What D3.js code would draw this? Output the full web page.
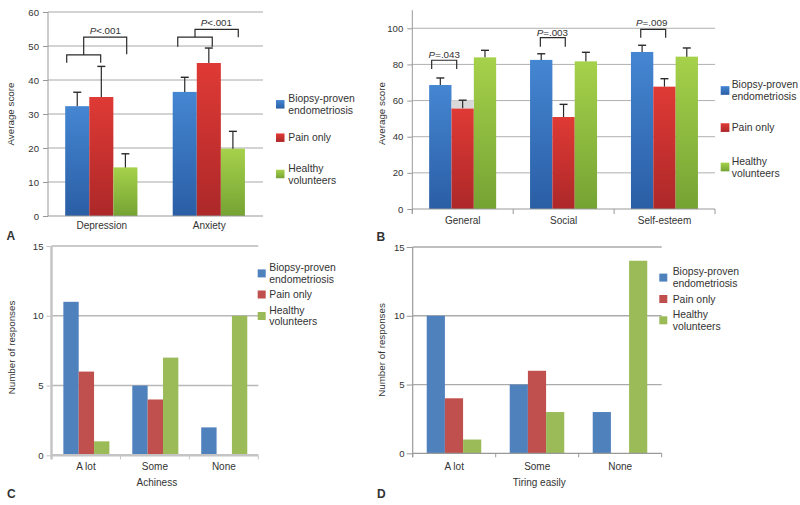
<!DOCTYPE html>
<html><head><meta charset="utf-8">
<script src="https://cdn.jsdelivr.net/npm/d3@7"></script>
<style>
body{margin:0;background:#fff}
svg{display:block}
text{font-family:"Liberation Sans",Arial,sans-serif;fill:#333}
</style>
</head><body>
<svg id="c" width="800" height="505"></svg>
<script>
// ---------- DATA ----------
const seriesNames = ["Biopsy-proven endometriosis", "Pain only", "Healthy volunteers"];
const legendLines = [["Biopsy-proven", "endometriosis"], ["Pain only"], ["Healthy", "volunteers"]];

// Panel A
const categoriesA = ["Depression", "Anxiety"];
const endoA = [32.3, 36.5];
const painA = [35.0, 45.0];
const healthyA = [14.3, 19.8];
const endoErrA = [4.1, 4.3];
const painErrA = [9.0, 4.4];
const healthyErrA = [4.0, 5.1];
const ticksA = [0, 10, 20, 30, 40, 50, 60];
const pLabelsA = ["P<.001", "P<.001"];

// Panel B
const categoriesB = ["General", "Social", "Self-esteem"];
const endoB = [68.6, 82.5, 86.9];
const painB = [55.7, 50.9, 67.7];
const healthyB = [83.9, 81.7, 84.3];
const endoErrB = [3.9, 3.4, 3.7];
const painErrB = [4.5, 7.0, 4.4];
const healthyErrB = [3.9, 5.0, 4.8];
const ticksB = [0, 20, 40, 60, 80, 100];
const pLabelsB = ["P=.043", "P=.003", "P=.009"];

// Panel C
const categoriesC = ["A lot", "Some", "None"];
const endoC = [11, 5, 2];
const painC = [6, 4, 0];
const healthyC = [1, 7, 10];

// Panel D
const categoriesD = ["A lot", "Some", "None"];
const endoD = [10, 5, 3];
const painD = [4, 6, 0];
const healthyD = [1, 3, 14];
const ticksCD = [0, 5, 10, 15];

// ---------- DRAWING ----------
const svg = d3.select("#c");
const defs = svg.append("defs");
const gradStops = [["#4586d2", "#2a5ea5"], ["#df3a35", "#ad2829"], ["#a6d14b", "#75a333"]];
gradStops.forEach((s, i) => {
  const g = defs.append("linearGradient").attr("id", "grad" + i)
    .attr("x1", 0).attr("y1", 0).attr("x2", 0).attr("y2", 1);
  g.append("stop").attr("offset", "0%").attr("stop-color", s[0]);
  g.append("stop").attr("offset", "100%").attr("stop-color", s[1]);
});
const gradFill = ["url(#grad0)", "url(#grad1)", "url(#grad2)"];
const flatFill = ["#4f81bd", "#c0504d", "#9bbb59"];

function drawPanel(o) {
  const g = svg.append("g");
  const x = d3.scaleBand().domain(o.cats).range([o.x0, o.x1]);
  const bw = x.bandwidth();
  const xs = d3.scaleBand().domain([0, 1, 2]).range([bw * o.g0, bw * o.g1]);
  const y = d3.scaleLinear().domain([0, o.yMax]).range([o.y0, o.y1]);

  // gridlines
  g.selectAll(".grid").data(o.ticks.filter(t => t > 0)).join("line")
    .attr("x1", o.x0).attr("x2", o.x1)
    .attr("y1", d => y(d)).attr("y2", d => y(d))
    .attr("stroke", o.gridColor).attr("stroke-width", o.gridW);

  // y axis
  const ax = g.append("g").attr("transform", `translate(${o.x0},0)`)
    .call(d3.axisLeft(y).tickValues(o.ticks).tickSize(o.tickLen).tickPadding(o.tickPad));
  ax.select(".domain").remove();
  ax.selectAll(".tick line").attr("stroke", o.axisColor).attr("stroke-width", 1);
  ax.selectAll(".tick text").attr("font-size", "9.6px").attr("fill", "#333")
    .style("font-family", '"Liberation Sans",Arial,sans-serif');
  g.append("line").attr("x1", o.x0).attr("x2", o.x0)
    .attr("y1", o.axisTop).attr("y2", y(0) + (o.xTickLen || 0))
    .attr("stroke", o.axisColor).attr("stroke-width", o.axisW);

  // bars
  o.series.forEach((vals, s) => {
    g.selectAll(".bar" + s).data(vals).join("rect")
      .attr("x", (d, i) => x(o.cats[i]) + xs(s))
      .attr("y", d => y(d))
      .attr("width", xs.bandwidth())
      .attr("height", d => y(0) - y(d))
      .attr("fill", o.fills[s]);
  });

  // shaded artifacts
  (o.shades || []).forEach(sh => {
    g.append("rect")
      .attr("x", x(sh.cat) + xs(sh.s)).attr("width", xs.bandwidth())
      .attr("y", y(sh.to)).attr("height", y(sh.from) - y(sh.to))
      .attr("fill", "#d9d9d9");
  });

  // error bars (upper only)
  if (o.errs) {
    o.errs.forEach((errs, s) => {
      errs.forEach((e, i) => {
        const cx = x(o.cats[i]) + xs(s) + xs.bandwidth() / 2;
        const v = o.series[s][i];
        g.append("line").attr("x1", cx).attr("x2", cx)
          .attr("y1", y(v)).attr("y2", y(v + e))
          .attr("stroke", "#2a2a2a").attr("stroke-width", 1.2);
        g.append("line").attr("x1", cx - 4).attr("x2", cx + 4)
          .attr("y1", y(v + e)).attr("y2", y(v + e))
          .attr("stroke", "#2a2a2a").attr("stroke-width", 1.4);
      });
    });
  }

  // x axis line
  g.append("line").attr("x1", o.x0).attr("x2", o.x1)
    .attr("y1", y(0)).attr("y2", y(0))
    .attr("stroke", o.axisColor).attr("stroke-width", o.axisW);
  if (o.xTickLen) {
    const bounds = o.cats.map(c => x(c)).concat([o.x1]);
    g.selectAll(".xt").data(bounds).join("line")
      .attr("x1", d => d).attr("x2", d => d)
      .attr("y1", y(0)).attr("y2", y(0) + o.xTickLen)
      .attr("stroke", o.axisColor).attr("stroke-width", 1);
  }

  // category labels
  g.selectAll(".cl").data(o.cats).join("text")
    .attr("x", d => x(d) + bw / 2).attr("y", o.catY)
    .attr("text-anchor", "middle").attr("font-size", "10px").text(d => d);

  if (o.xTitle) {
    g.append("text").attr("x", (o.x0 + o.x1) / 2 + 2).attr("y", o.xTitleY)
      .attr("text-anchor", "middle").attr("font-size", "10px").text(o.xTitle);
  }
  // y title
  g.append("text")
    .attr("transform", `translate(${o.yTitleX},${o.yTitleY}) rotate(-90)`)
    .attr("text-anchor", "middle").attr("dy", "0.35em")
    .attr("font-size", "9.8px").text(o.yTitle);

  // panel letter
  g.append("text").attr("x", o.letterX).attr("y", o.letterY)
    .attr("font-size", "12px").attr("font-weight", "bold").attr("fill", "#111")
    .text(o.letter);

  // legend
  legendLines.forEach((lines, s) => {
    const cy = o.legY[s];
    g.append("rect").attr("x", o.legX).attr("y", cy - o.legSq / 2)
      .attr("width", o.legSq).attr("height", o.legSq).attr("fill", o.fills[s]);
    lines.forEach((ln, k) => {
      g.append("text").attr("x", o.legTX)
        .attr("y", cy + (k - (lines.length - 1) / 2) * o.legLH)
        .attr("dy", "0.35em").attr("font-size", "10.4px").text(ln);
    });
  });

  // p-value brackets
  (o.brackets || []).forEach(b => {
    const bx = x(b.cat);
    const px = f => bx + f * bw;
    const path = d3.path();
    path.moveTo(px(b.x0), y(b.leg));
    path.lineTo(px(b.x0), y(b.top));
    path.lineTo(px(b.x1), y(b.top));
    path.lineTo(px(b.x1), y(b.leg));
    if (b.ux1 !== undefined) {
      const mid = (b.x0 + b.x1) / 2;
      path.moveTo(px(mid), y(b.top));
      path.lineTo(px(mid), y(b.utop));
      path.lineTo(px(b.ux1), y(b.utop));
      path.lineTo(px(b.ux1), y(b.uleg));
    }
    g.append("path").attr("d", path.toString()).attr("fill", "none")
      .attr("stroke", "#2a2a2a").attr("stroke-width", 1.2);
    const t = g.append("text").attr("x", px(b.lx)).attr("y", y(b.ly))
      .attr("dy", "0.35em").attr("text-anchor", "middle").attr("font-size", "9.8px");
    t.append("tspan").attr("font-style", "italic").text(b.label.slice(0, 1));
    t.append("tspan").text(b.label.slice(1));
  });
}

// Panel A
drawPanel({
  cats: categoriesA, series: [endoA, painA, healthyA], errs: [endoErrA, painErrA, healthyErrA],
  x0: 48, x1: 263, y0: 216, y1: 12, yMax: 60, ticks: ticksA, axisTop: 12,
  g0: 0.16, g1: 0.832, fills: gradFill,
  gridColor: "#a8a8a8", gridW: 1, axisColor: "#999", axisW: 1, tickLen: 5, tickPad: 4,
  catY: 228.5, yTitle: "Average score", yTitleX: 11, yTitleY: 114,
  letter: "A", letterX: 6.5, letterY: 240,
  legX: 276, legSq: 8.5, legTX: 288.3, legY: [104.3, 137.7, 174], legLH: 12,
  brackets: [
    {cat: "Depression", x0: 0.174, x1: 0.49, top: 47.4, leg: 45.1, utop: 52.6, ux1: 0.732, uleg: 47.6,
     lx: 0.533, ly: 54.6, label: pLabelsA[0]},
    {cat: "Anxiety", x0: 0.207, x1: 0.528, top: 52.6, leg: 49.8, utop: 54.9, ux1: 0.77, uleg: 52.6,
     lx: 0.566, ly: 56.9, label: pLabelsA[1]}
  ]
});

// Panel B
drawPanel({
  cats: categoriesB, series: [endoB, painB, healthyB], errs: [endoErrB, painErrB, healthyErrB],
  x0: 412.3, x1: 715, y0: 209, y1: 10.2, yMax: 110, ticks: ticksB, axisTop: 10.2,
  g0: 0.167, g1: 0.831, fills: gradFill,
  gridColor: "#b0b0b0", gridW: 1, axisColor: "#999", axisW: 1, tickLen: 5, tickPad: 4, xTickLen: 5,
  shades: [{cat: "General", s: 1, from: 55.7, to: 60.2}],
  catY: 224.3, yTitle: "Average score", yTitleX: 381.5, yTitleY: 113.5,
  letter: "B", letterX: 376.5, letterY: 241,
  legX: 720.7, legSq: 8.7, legTX: 731.7, legY: [90.5, 127.6, 167], legLH: 12,
  brackets: [
    {cat: "General", x0: 0.192, x1: 0.44, top: 82.3, leg: 77.5, lx: 0.317, ly: 85.7, label: pLabelsB[0]},
    {cat: "Social", x0: 0.269, x1: 0.516, top: 94.8, leg: 89.8, lx: 0.388, ly: 97.7, label: pLabelsB[1]},
    {cat: "Self-esteem", x0: 0.264, x1: 0.511, top: 99.4, leg: 94.8, lx: 0.373, ly: 103, label: pLabelsB[2]}
  ]
});

// Panel C
drawPanel({
  cats: categoriesC, series: [endoC, painC, healthyC],
  x0: 51.5, x1: 258.3, y0: 455.3, y1: 246, yMax: 15, ticks: ticksCD, axisTop: 246,
  g0: 0.172, g1: 0.84, fills: flatFill,
  gridColor: "#b8b8b8", gridW: 1.5, axisColor: "#c4c4c4", axisW: 2.5, tickLen: 5, tickPad: 3, xTickLen: 4,
  catY: 470, xTitle: "Achiness", xTitleY: 486,
  yTitle: "Number of responses", yTitleX: 11.7, yTitleY: 347.5,
  letter: "C", letterX: 7, letterY: 497.5,
  legX: 257.7, legSq: 8, legTX: 269.3, legY: [273.4, 294.5, 316], legLH: 11.6
});

// Panel D
drawPanel({
  cats: categoriesD, series: [endoD, painD, healthyD],
  x0: 412.7, x1: 661.7, y0: 453.3, y1: 247, yMax: 15, ticks: ticksCD, axisTop: 247,
  g0: 0.169, g1: 0.826, fills: flatFill,
  gridColor: "#aaaaaa", gridW: 1.3, axisColor: "#999", axisW: 1.2, tickLen: 6, tickPad: 2, xTickLen: 4,
  catY: 470, xTitle: "Tiring easily", xTitleY: 486,
  yTitle: "Number of responses", yTitleX: 381.5, yTitleY: 350,
  letter: "D", letterX: 377, letterY: 497.5,
  legX: 659.3, legSq: 8, legTX: 672.7, legY: [277.6, 299, 320.3], legLH: 11.5
});
</script>
</body></html>
